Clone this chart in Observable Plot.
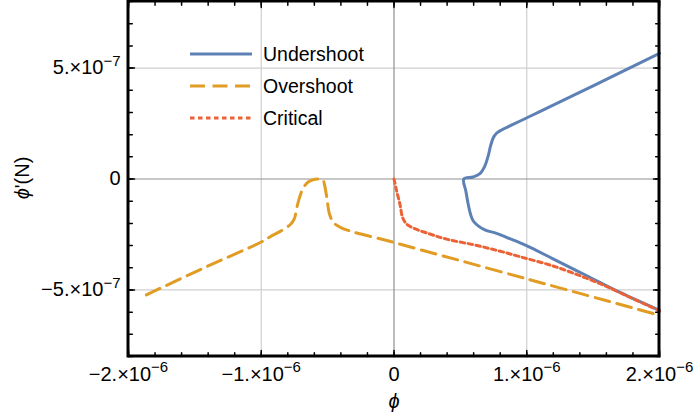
<!DOCTYPE html>
<html><head><meta charset="utf-8">
<script src="https://cdn.jsdelivr.net/npm/d3@7"></script>
<script src="https://cdn.jsdelivr.net/npm/@observablehq/plot@0.6"></script>
<style>html,body{margin:0;padding:0;background:#fff;overflow:hidden;}</style>
</head><body><div id="chart"></div>
<script>
// ---- data ----
const seriesNames = ["Undershoot", "Overshoot", "Critical"];
const seriesColors = ["#5E81B5", "#E19C24", "#EB6235"];

const underPhi  = [2.0e-6, 1.5e-6, 1.098e-6, 0.998e-6, 0.897e-6, 0.810e-6, 0.772e-6, 0.747e-6, 0.727e-6, 0.709e-6, 0.684e-6, 0.647e-6, 0.596e-6, 0.526e-6,
                   0.541e-6, 0.559e-6, 0.576e-6, 0.596e-6, 0.634e-6, 0.684e-6, 0.772e-6, 0.847e-6, 0.998e-6, 1.198e-6, 1.449e-6, 1.699e-6, 2.0e-6];
const underDphi = [5.66e-7, 4.2e-7, 3.04e-7, 2.75e-7, 2.46e-7, 2.21e-7, 2.06e-7, 1.85e-7, 1.48e-7, 1.03e-7, 0.58e-7, 0.24e-7, 0.09e-7, 0.0,
                   -0.54e-7, -1.14e-7, -1.58e-7, -1.88e-7, -2.11e-7, -2.29e-7, -2.45e-7, -2.63e-7, -3.0e-7, -3.6e-7, -4.35e-7, -5.1e-7, -5.92e-7];

const overPhi  = [-1.865e-6, -1.4e-6, -1.0e-6, -0.932e-6, -0.857e-6, -0.782e-6, -0.752e-6, -0.732e-6, -0.712e-6, -0.682e-6, -0.644e-6, -0.594e-6, -0.565e-6, -0.536e-6,
                  -0.524e-6, -0.506e-6, -0.486e-6, -0.456e-6, -0.393e-6, 0.0, 1.0e-6, 2.0e-6];
const overDphi = [-5.22e-7, -3.92e-7, -2.84e-7, -2.6e-7, -2.36e-7, -2.06e-7, -1.81e-7, -1.29e-7, -0.84e-7, -0.39e-7, -0.12e-7, -0.01e-7, 0.0, -0.03e-7,
                  -0.24e-7, -0.84e-7, -1.58e-7, -1.96e-7, -2.21e-7, -2.86e-7, -4.5e-7, -6.14e-7];

const critPhi  = [0.0, 0.02e-6, 0.045e-6, 0.065e-6, 0.095e-6, 0.145e-6, 0.271e-6, 0.396e-6, 0.596e-6, 0.784e-6, 0.947e-6, 1.198e-6, 1.449e-6, 1.6e-6, 1.7e-6, 2.0e-6];
const critDphi = [0.0, -0.54e-7, -1.14e-7, -1.74e-7, -2.03e-7, -2.21e-7, -2.48e-7, -2.71e-7, -2.96e-7, -3.23e-7, -3.5e-7, -3.92e-7, -4.47e-7, -4.84e-7, -5.12e-7, -5.94e-7];

const xDomain = [-2e-6, 2e-6];
const yDomain = [-8e-7, 8e-7];
const xTicks = [-2e-6, -1e-6, 0, 1e-6, 2e-6];
const xTickLabels = ["\u22122.\u00d710^\u22126", "\u22121.\u00d710^\u22126", "0", "1.\u00d710^\u22126", "2.\u00d710^\u22126"];
const yTicks = [-5e-7, 0, 5e-7];
const yTickLabels = ["\u22125.\u00d710^\u22127", "0", "5.\u00d710^\u22127"];
const xGrid = [-1e-6, 1e-6];
const yGrid = [-5e-7, 5e-7];

// ---- build rows ----
const rows = (xs, ys) => xs.map((x, i) => ({phi: x, dphi: ys[i]}));
const under = rows(underPhi, underDphi);
const over = rows(overPhi, overDphi);
const crit = rows(critPhi, critDphi);

const xMinor = d3.ticks(xDomain[0], xDomain[1], 20);
const yMinor = d3.ticks(yDomain[0], yDomain[1], 16);

const tickShape = {draw(ctx, l) { ctx.moveTo(0, 0); ctx.lineTo(0, -l); }};
const tk = (data, side, len, ch) => Plot.vector(data, {
  [ch]: d => d, frameAnchor: side, length: len, anchor: "start", shape: tickShape,
  rotate: side === "bottom" ? 0 : side === "top" ? 180 : side === "left" ? 90 : -90,
  stroke: "black", strokeWidth: 1.5
});
const fmt = (ticks, labels) => v => labels[ticks.findIndex(t => Math.abs(t - v) < 1e-12)];

const chart = Plot.plot({
  width: 695, height: 419,
  marginLeft: 128, marginRight: 36, marginTop: 1, marginBottom: 63,
  style: {fontFamily: "'Liberation Sans', Arial, sans-serif", fontSize: "20px"},
  x: {domain: xDomain},
  y: {domain: yDomain},
  marks: [
    Plot.ruleX(xGrid, {stroke: "#cfcfcf", strokeWidth: 1.2}),
    Plot.ruleY(yGrid, {stroke: "#cfcfcf", strokeWidth: 1.2}),
    Plot.ruleX([0], {stroke: "#8f8f8f", strokeWidth: 1.2}),
    Plot.ruleY([0], {stroke: "#8f8f8f", strokeWidth: 1.2}),
    Plot.line(under, {x: "phi", y: "dphi", stroke: seriesColors[0], strokeWidth: 3, curve: "catmull-rom"}),
    Plot.line(over, {x: "phi", y: "dphi", stroke: seriesColors[1], strokeWidth: 3, strokeDasharray: "15,7.5", curve: "catmull-rom"}),
    Plot.line(crit, {x: "phi", y: "dphi", stroke: seriesColors[2], strokeWidth: 3, strokeDasharray: "4.5,3.5", curve: "catmull-rom"}),
    Plot.axisX(xTicks, {tickSize: 0, tickPadding: 10, tickFormat: fmt(xTicks, xTickLabels), label: null, fill: "black"}),
    Plot.axisY(yTicks, {tickSize: 0, tickPadding: 8, tickFormat: fmt(yTicks, yTickLabels), label: null, fill: "black"}),
    tk(xMinor, "bottom", 3.8, "x"), tk(xMinor, "top", 3.8, "x"),
    tk(xTicks, "bottom", 6, "x"), tk(xTicks, "top", 6, "x"),
    tk(yMinor, "left", 3.8, "y"), tk(yMinor, "right", 3.8, "y"),
    tk(yTicks, "left", 6, "y"), tk(yTicks, "right", 6, "y")
  ]
});

// superscript exponents in tick labels
d3.select(chart).selectAll("text").each(function () {
  const t = this.textContent;
  if (t.includes("^")) {
    const [a, b] = t.split("^");
    this.textContent = a;
    d3.select(this).append("tspan").attr("dy", -8.5).attr("font-size", 15).text(b);
  }
});

const svg = d3.select(chart);
// axis titles
svg.append("text").attr("x", 394).attr("y", 408).attr("text-anchor", "middle")
  .attr("font-size", 20).attr("font-style", "italic").text("\u03d5");
const yl = svg.append("text").attr("transform", "translate(29,178) rotate(-90)")
  .attr("text-anchor", "middle").attr("font-size", 20);
yl.append("tspan").attr("font-style", "italic").text("\u03d5");
yl.append("tspan").text("'(N)");

// legend
const dashes = [null, "15,7.5", "4.5,3.5"];
const lg = svg.append("g");
seriesNames.forEach((name, i) => {
  const y = 54 + i * 32;
  lg.append("line").attr("x1", 190).attr("x2", 252).attr("y1", y).attr("y2", y)
    .attr("stroke", seriesColors[i]).attr("stroke-width", 3).attr("stroke-dasharray", dashes[i]);
  lg.append("text").attr("x", 263).attr("y", y).attr("dy", "0.35em")
    .attr("text-anchor", "start").attr("font-size", 19.5).text(name);
});

// frame from the scales' ranges, drawn last
const xr = chart.scale("x").range, yr = chart.scale("y").range;
const fx0 = Math.min(...xr), fx1 = Math.max(...xr), fy0 = Math.min(...yr), fy1 = Math.max(...yr);
svg.append("rect").attr("x", fx0).attr("y", fy0).attr("width", fx1 - fx0).attr("height", fy1 - fy0)
  .attr("fill", "none").attr("stroke", "#000").attr("stroke-width", 3);

document.getElementById("chart").append(chart);
</script>
</body></html>
